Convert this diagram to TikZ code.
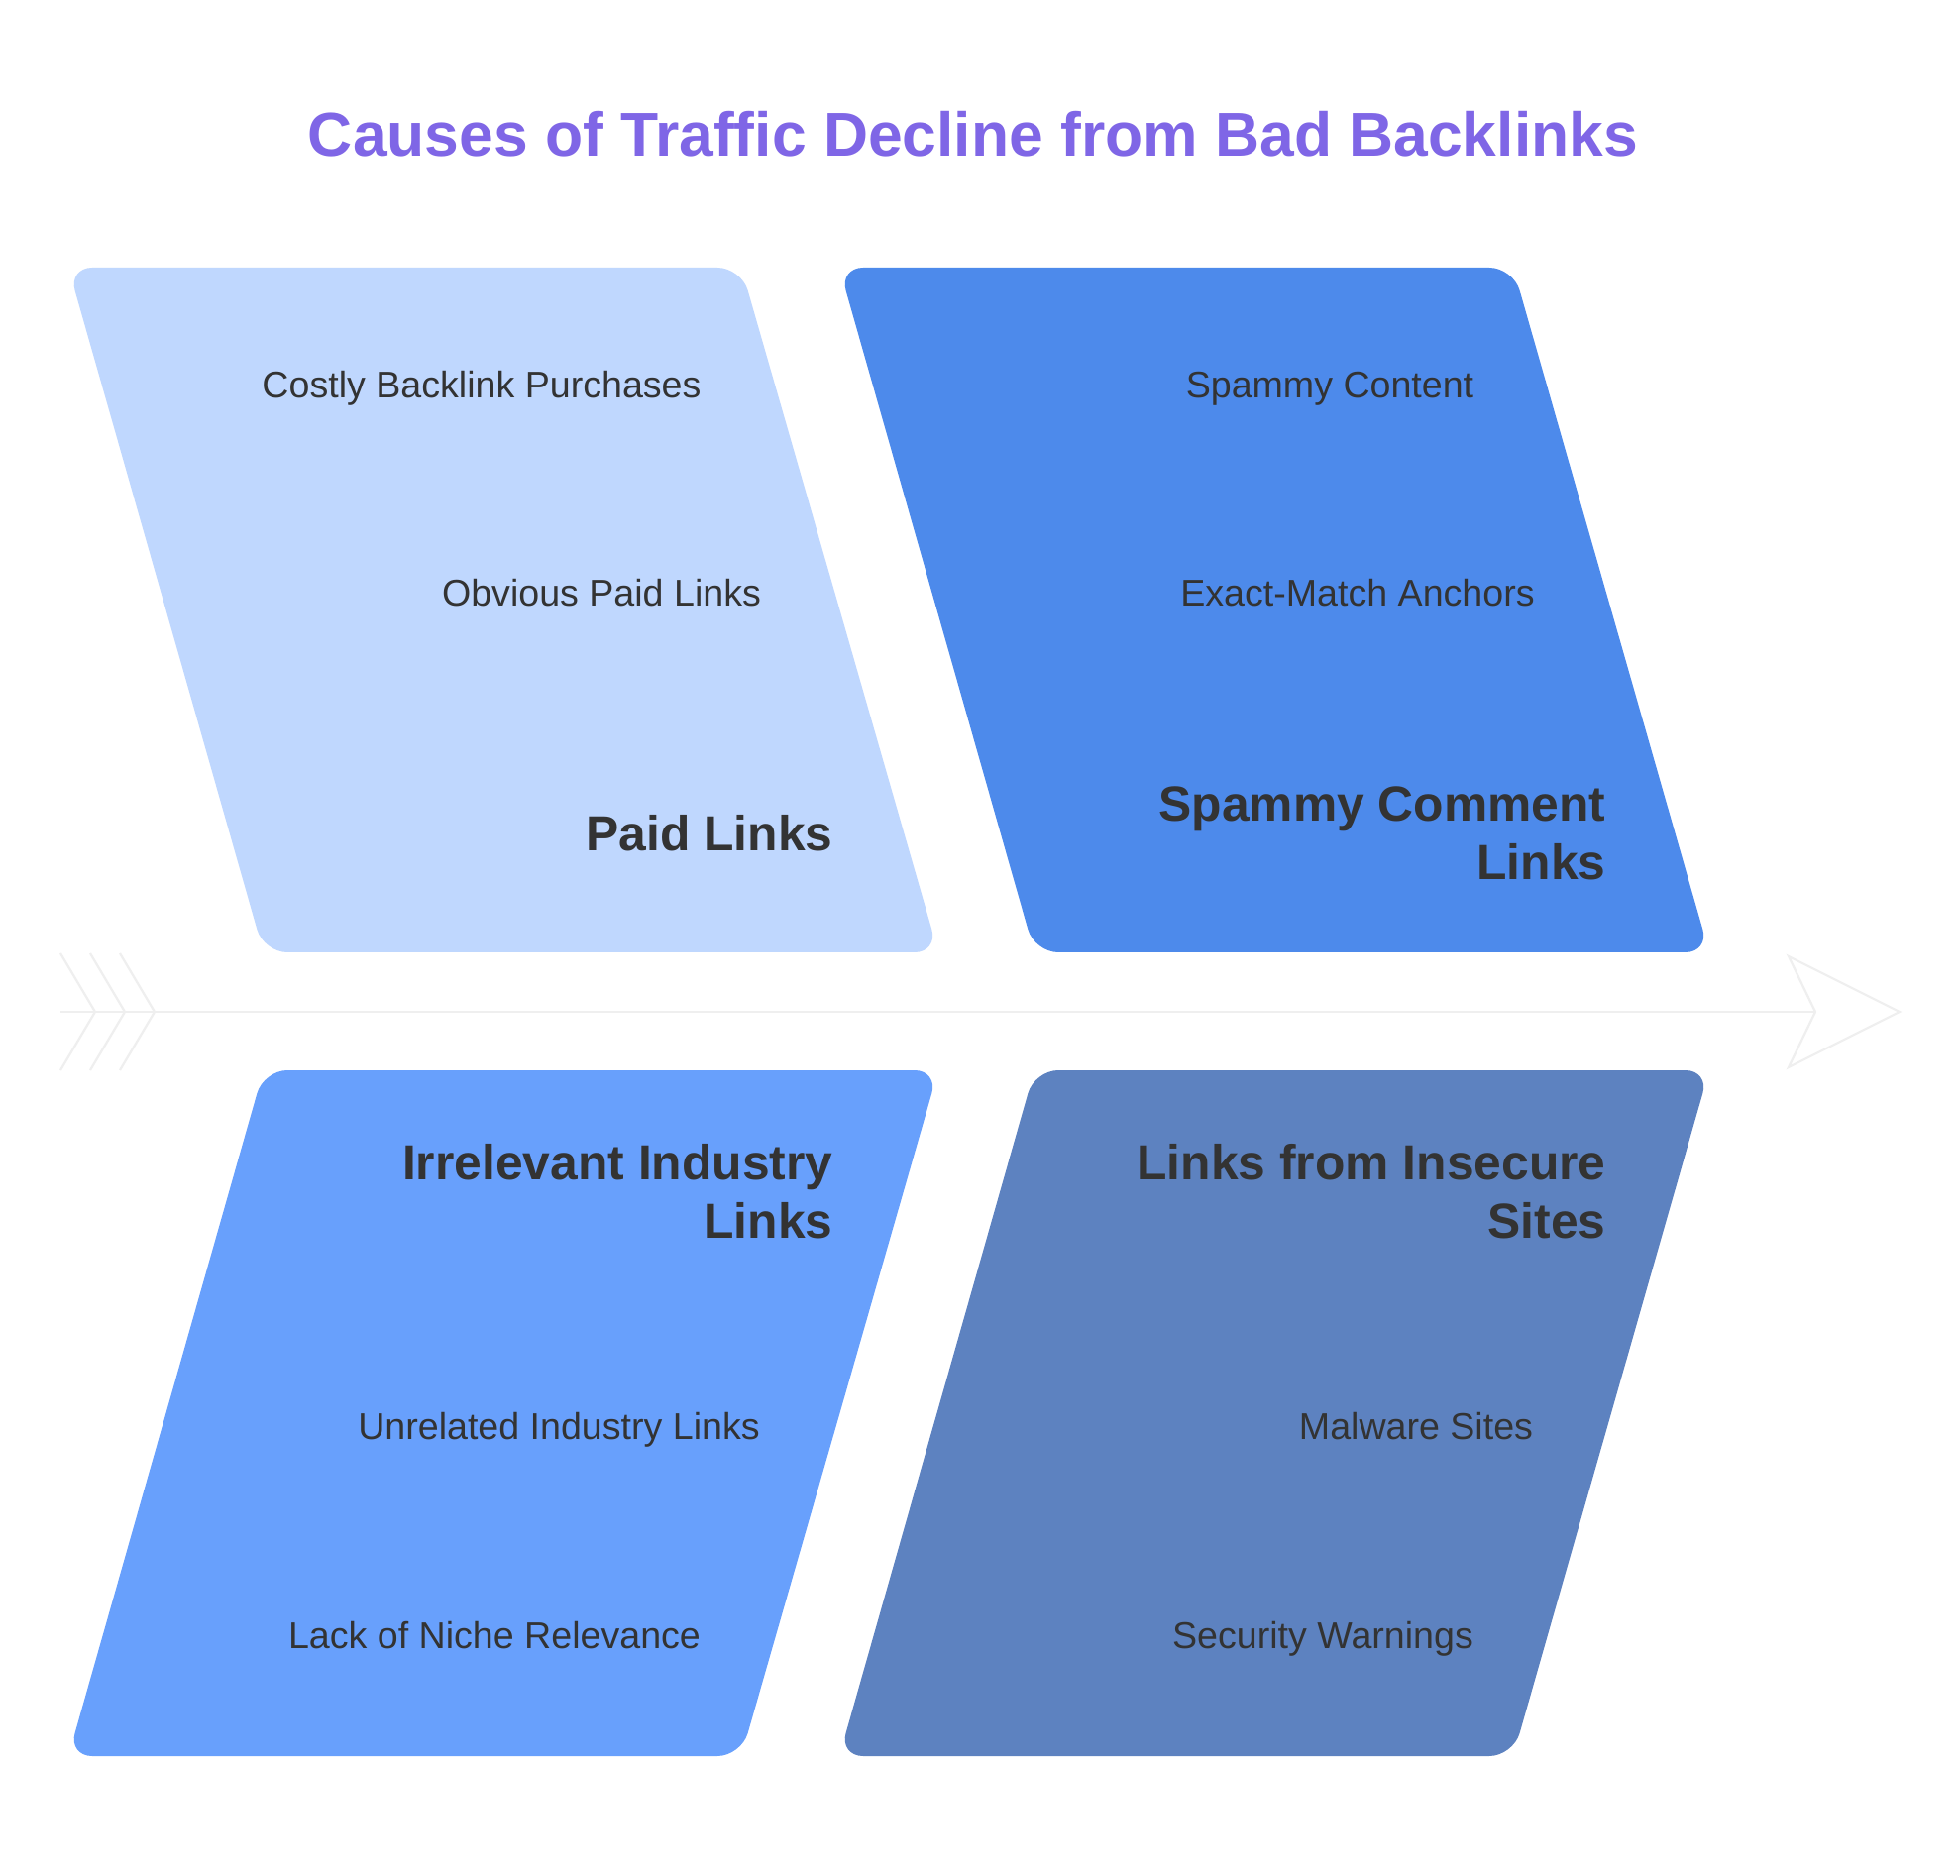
\documentclass[tikz,border=0pt]{standalone}
\usepackage{fontspec}
\setmainfont{Liberation Sans}
\definecolor{titlec}{HTML}{7F66E6}
\definecolor{boxA}{HTML}{BFD7FE}
\definecolor{boxB}{HTML}{4D8AEB}
\definecolor{boxC}{HTML}{68A0FC}
\definecolor{boxD}{HTML}{5D82C0}
\definecolor{txt}{HTML}{333333}
\definecolor{spinec}{HTML}{EFEFEF}
\tikzset{
  catbox/.style={rounded corners=12pt},
  subitem/.style={inner sep=0pt, anchor=base, text=txt, font=\fontsize{18.8pt}{22.5pt}\selectfont},
  catlabel/.style={inner sep=0pt, text=txt, align=right, anchor=east, font=\fontsize{24.9pt}{29.5pt}\selectfont\bfseries},
  spine/.style={draw=spinec, line width=1.1pt, line join=miter},
  titlestyle/.style={inner sep=0pt, text=titlec, font=\fontsize{31.2pt}{37pt}\selectfont\bfseries}
}
\begin{document}
\begin{tikzpicture}[x=0.5pt,y=-0.5pt]
\useasboundingbox[fill=white] (0,0) rectangle (1978,1893);
% title
\node[titlestyle] (title) at (982,135) {Causes of Traffic Decline from Bad Backlinks};
% spine
\coordinate (tail) at (61,1021);
\coordinate (notch) at (1832,1021);
\draw[spine] (tail) -- (notch);
\draw[spine] (1805,965) -- (1917,1021) -- (1805,1077) -- (notch) -- cycle;
\foreach \dx in {0,30,60}{
  \draw[spine] (61+\dx,962) -- (96+\dx,1021) -- (61+\dx,1080);
}
% boxes
\fill[boxA, catbox] (69,270) -- (748,270) -- (947,961) -- (266,961) -- cycle;
\fill[boxB, catbox] (847,270) -- (1527,270) -- (1725,961) -- (1044,961) -- cycle;
\fill[boxC, catbox] (266,1080) -- (947,1080) -- (748,1772) -- (69,1772) -- cycle;
\fill[boxD, catbox] (1044,1080) -- (1725,1080) -- (1527,1772) -- (847,1772) -- cycle;
% box 1
\node[subitem] (a1) at (486,402) {Costly Backlink Purchases};
\node[subitem] (a2) at (607,612) {Obvious Paid Links};
\node[catlabel] (A) at (841,841) {Paid Links};
% box 2
\node[subitem] (b1) at (1342,402) {Spammy Content};
\node[subitem] (b2) at (1370,612) {Exact-Match Anchors};
\node[catlabel] (B) at (1621,841) {Spammy Comment\\Links};
% box 3
\node[catlabel] (C) at (841,1202) {Irrelevant Industry\\Links};
\node[subitem] (c1) at (564,1452) {Unrelated Industry Links};
\node[subitem] (c2) at (499,1663) {Lack of Niche Relevance};
% box 4
\node[catlabel] (D) at (1621,1202) {Links from Insecure\\Sites};
\node[subitem] (d1) at (1429,1452) {Malware Sites};
\node[subitem] (d2) at (1335,1663) {Security Warnings};
\end{tikzpicture}
\end{document}
